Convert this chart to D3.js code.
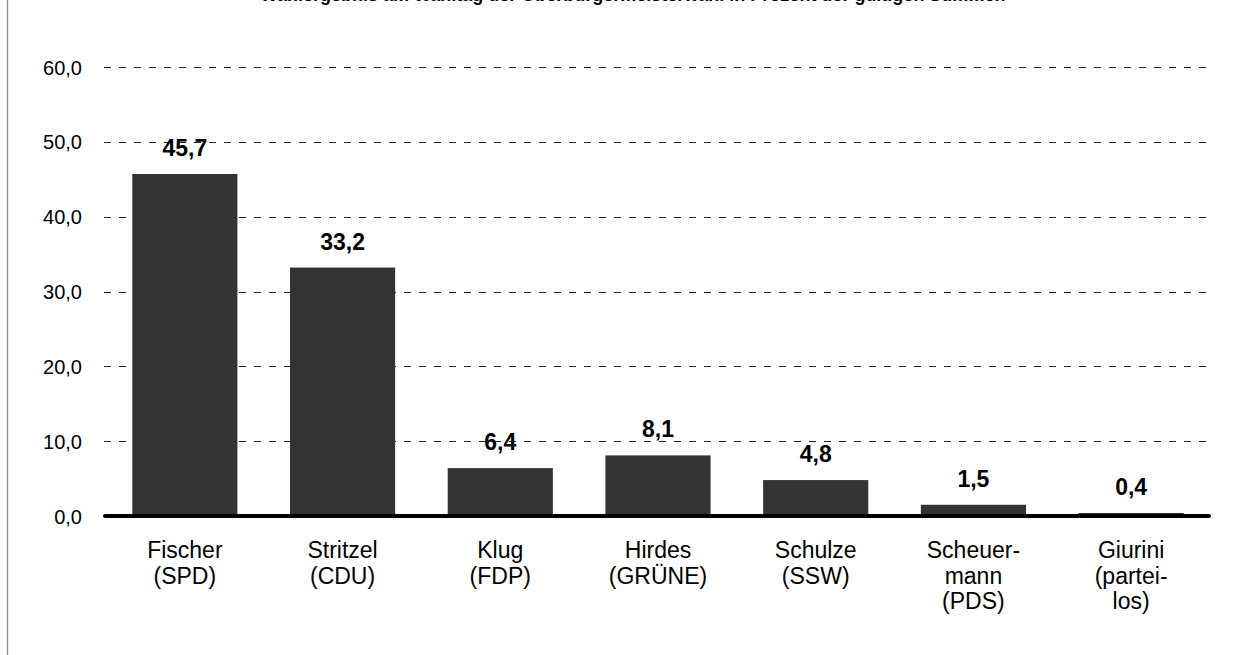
<!DOCTYPE html>
<html>
<head>
<meta charset="utf-8">
<script src="https://cdn.jsdelivr.net/npm/d3@7"></script>
<style>
html,body{margin:0;padding:0;background:#fff;}
svg{display:block;font-family:"Liberation Sans",Arial,sans-serif;}
</style>
</head>
<body>
<svg id="chart" width="1237" height="655"></svg>
<script>
const titleText = "Wahlergebnis am Wahltag der Oberbürgermeisterwahl in Prozent der gültigen Stimmen";
const candidates = ["Fischer (SPD)","Stritzel (CDU)","Klug (FDP)","Hirdes (GRÜNE)","Schulze (SSW)","Scheuermann (PDS)","Giurini (parteilos)"];
const candidateLines = [["Fischer","(SPD)"],["Stritzel","(CDU)"],["Klug","(FDP)"],["Hirdes","(GRÜNE)"],["Schulze","(SSW)"],["Scheuer-","mann","(PDS)"],["Giurini","(partei-","los)"]];
const values = [45.7,33.2,6.4,8.1,4.8,1.5,0.4];
const yTicks = [0,10,20,30,40,50,60];

(function(){
const svg = d3.select("#chart");
const W = 1237, H = 655;
const mLeft = 104, mRight = 1210, mTop = 67, mBottom = 516;

const loc = d3.formatLocale({decimal:",",thousands:".",grouping:[3],currency:["","€"]});
const fmt = loc.format(".1f");

const x = d3.scaleBand().domain(candidates).range([mLeft+2, mRight]).paddingInner(1/3).paddingOuter(1/6);
const y = d3.scaleLinear().domain([0,60]).range([mBottom, mTop]);

// left frame line
svg.append("line").attr("x1",7.5).attr("x2",7.5).attr("y1",0).attr("y2",H)
  .attr("stroke","#8c8c8c").attr("stroke-width",1.3);

// title (mostly outside the visible area, as in the reference)
svg.append("text").attr("x",633).attr("y",1).attr("text-anchor","middle")
  .attr("font-weight","bold").attr("font-size",18).attr("fill","#000").text(titleText);

// gridlines
svg.append("g").selectAll("line").data(yTicks.filter(d=>d>0)).join("line")
  .attr("x1",mLeft).attr("x2",mRight)
  .attr("y1",d=>Math.round(y(d))+0.5).attr("y2",d=>Math.round(y(d))+0.5)
  .attr("stroke","#222").attr("stroke-width",1).attr("stroke-dasharray","7,8");

// y axis labels
const yAxis = d3.axisLeft(y).tickValues(yTicks).tickFormat(fmt).tickSize(0).tickPadding(0);
const ga = svg.append("g").attr("transform","translate(82,0)").call(yAxis);
ga.select(".domain").remove();
ga.selectAll("text").attr("font-size",20).attr("fill","#000")
  .attr("font-family","'Liberation Sans',Arial,sans-serif").attr("dy","0.35em");

// bars
svg.append("g").selectAll("rect").data(values).join("rect")
  .attr("x",(d,i)=>x(candidates[i]))
  .attr("width",x.bandwidth())
  .attr("y",d=>y(d))
  .attr("height",d=>y(0)-y(d))
  .attr("fill","#333333");

// baseline
svg.append("line").attr("x1",mLeft+1).attr("x2",mRight-1).attr("y1",y(0)).attr("y2",y(0))
  .attr("stroke","#000").attr("stroke-width",4).attr("stroke-linecap","round");

// value labels
svg.append("g").selectAll("text").data(values).join("text")
  .attr("x",(d,i)=>x(candidates[i])+x.bandwidth()/2)
  .attr("y",d=>y(d)-18)
  .attr("text-anchor","middle").attr("font-weight","bold").attr("font-size",23)
  .attr("fill","#000").text(d=>fmt(d));

// category labels
const cg = svg.append("g").selectAll("text").data(candidateLines).join("text")
  .attr("x",(d,i)=>x(candidates[i])+x.bandwidth()/2)
  .attr("y",558).attr("text-anchor","middle").attr("font-size",23).attr("fill","#000");
cg.selectAll("tspan").data(d=>d).join("tspan")
  .attr("x",function(){return this.parentNode.getAttribute("x");})
  .attr("dy",(d,i)=>i===0?0:25.5).text(d=>d);
})();
</script>
</body>
</html>
